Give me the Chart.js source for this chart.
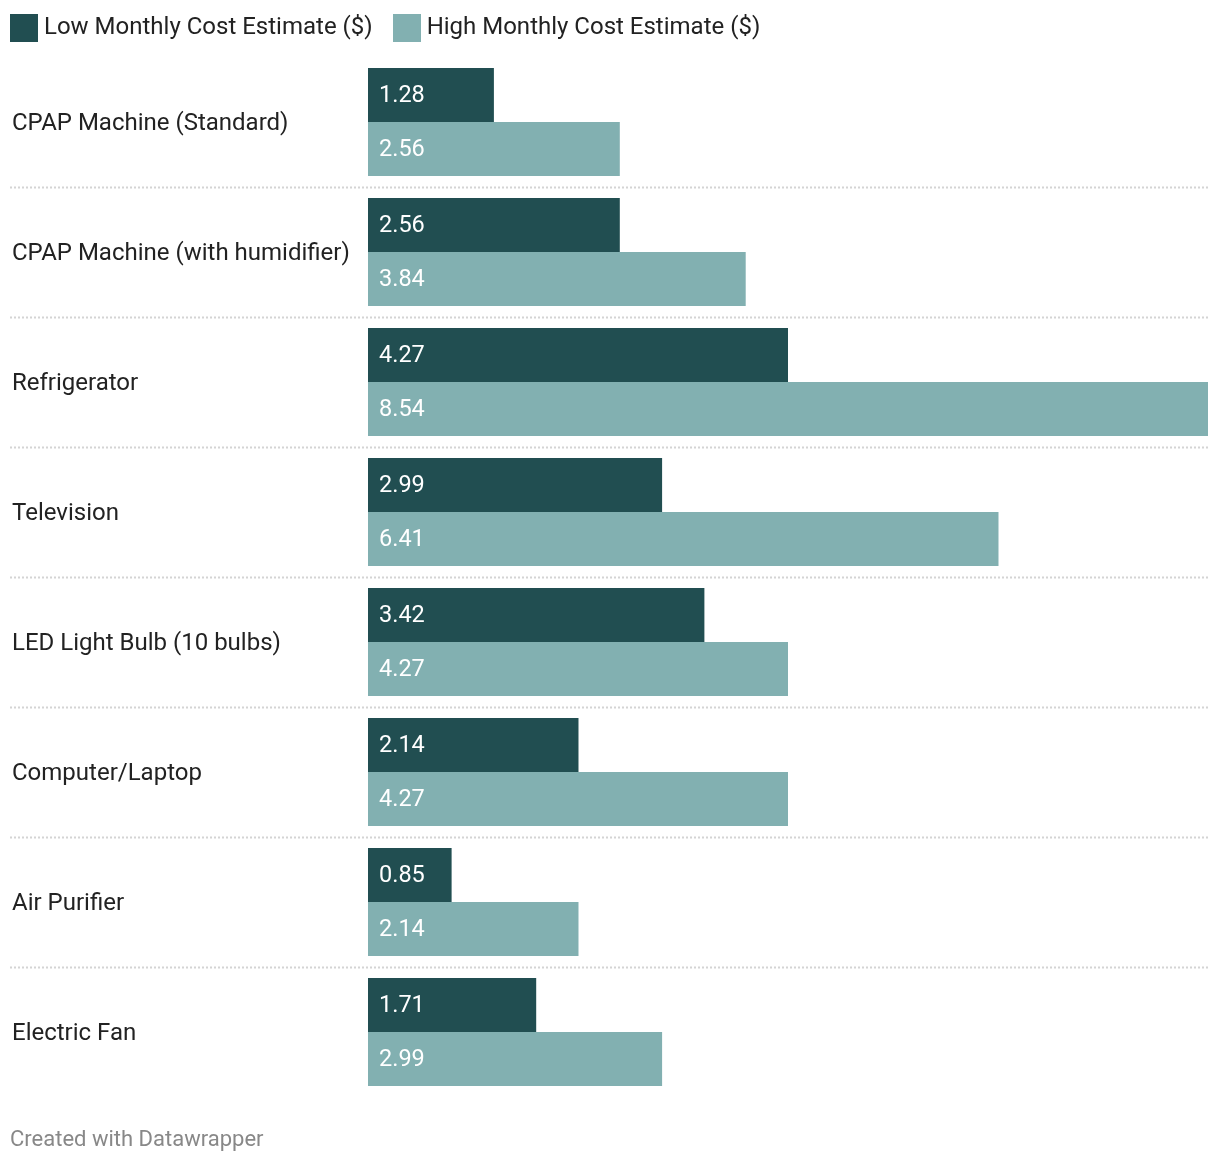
<!DOCTYPE html>
<html><head><meta charset="utf-8">
<script src="https://cdn.jsdelivr.net/npm/chart.js@4/dist/chart.umd.min.js"></script>
<style>
html,body{margin:0;padding:0;background:#fff;width:1220px;height:1164px;overflow:hidden;font-family:Roboto,sans-serif;}
#legend{position:absolute;left:10px;top:14px;height:28px;display:flex;align-items:center;font-size:24px;line-height:28px;color:#222;}
.item{display:flex;align-items:center;margin-right:20px;}
.sw{width:28px;height:28px;margin-right:6px;flex:none;}
.item span{position:relative;top:-2px;}
#footer{position:absolute;left:10px;top:1125px;font-size:22px;line-height:28px;color:#888;}
#wrap{position:absolute;left:0;top:0;width:1220px;height:1164px;}
</style></head><body>
<div id="wrap"><canvas id="c" width="1220" height="1164"></canvas></div>
<div id="legend"></div>
<div id="footer">Created with Datawrapper</div>
<script>
const categories = ["CPAP Machine (Standard)","CPAP Machine (with humidifier)","Refrigerator","Television","LED Light Bulb (10 bulbs)","Computer/Laptop","Air Purifier","Electric Fan"];
const lowValues = [1.28,2.56,4.27,2.99,3.42,2.14,0.85,1.71];
const highValues = [2.56,3.84,8.54,6.41,4.27,4.27,2.14,2.99];
const seriesNames = ["Low Monthly Cost Estimate ($)","High Monthly Cost Estimate ($)"];
const colors = ["#214e51","#82b0b1"];

const lg = document.getElementById('legend');
seriesNames.forEach((n,i)=>{
  const d=document.createElement('div');d.className='item';
  const s=document.createElement('div');s.className='sw';s.style.background=colors[i];
  const t=document.createElement('span');t.textContent=n;
  d.appendChild(s);d.appendChild(t);lg.appendChild(d);
});

const sepPlugin = {
  id:'sep',
  beforeDatasetsDraw(chart){
    const y=chart.scales.y, ctx=chart.ctx;
    ctx.save();
    ctx.strokeStyle='#d4d4d4';ctx.lineWidth=2;ctx.setLineDash([2,2]);
    for(let i=1;i<categories.length;i++){
      const py=Math.round((y.getPixelForTick(i-1)+y.getPixelForTick(i))/2)+0.5;
      ctx.beginPath();ctx.moveTo(10,py);ctx.lineTo(chart.chartArea.right,py);ctx.stroke();
    }
    ctx.restore();
  }
};
const valPlugin = {
  id:'vals',
  afterDatasetsDraw(chart){
    const ctx=chart.ctx;
    ctx.save();
    ctx.font='23.5px Roboto';ctx.fillStyle='#fff';ctx.textBaseline='middle';ctx.textAlign='left';
    chart.data.datasets.forEach((ds,di)=>{
      chart.getDatasetMeta(di).data.forEach((bar,i)=>{
        ctx.fillText(ds.data[i].toFixed(2), bar.base+11, bar.y+1);
      });
    });
    ctx.restore();
  }
};

new Chart(document.getElementById('c'),{
  type:'bar',
  data:{labels:categories,datasets:[
    {label:seriesNames[0],data:lowValues,backgroundColor:colors[0],categoryPercentage:108/130,barPercentage:1},
    {label:seriesNames[1],data:highValues,backgroundColor:colors[1],categoryPercentage:108/130,barPercentage:1}
  ]},
  options:{
    indexAxis:'y',responsive:false,animation:false,
    layout:{padding:{top:57,bottom:67,left:12,right:12}},
    plugins:{legend:{display:false},tooltip:{enabled:false}},
    scales:{
      x:{display:false,min:0,max:8.54},
      y:{
        grid:{display:false},border:{display:false},
        afterFit(s){s.width=356;},
        ticks:{crossAlign:'far',color:'#222',font:{family:'Roboto',size:24},padding:0,labelOffset:2}
      }
    }
  },
  plugins:[sepPlugin,valPlugin]
});
</script>
</body></html>
